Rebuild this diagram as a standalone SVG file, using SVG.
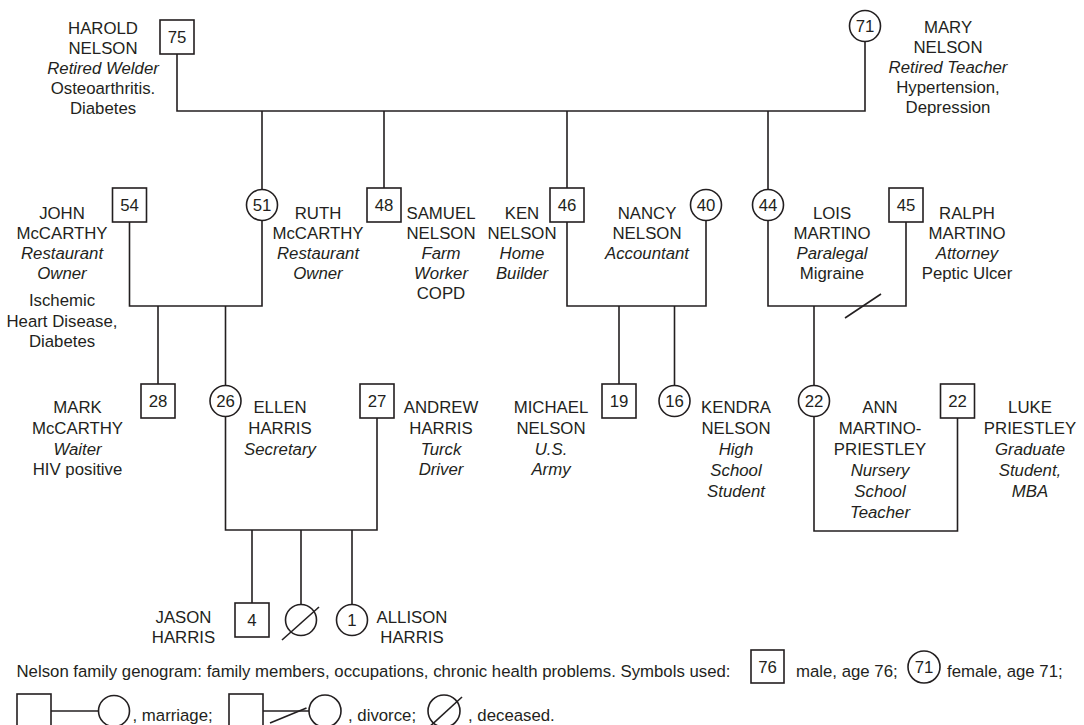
<svg xmlns="http://www.w3.org/2000/svg" width="1084" height="725" viewBox="0 0 1084 725">
<style>
text{font-family:"Liberation Sans",Arial,Helvetica,sans-serif;font-size:16.8px;fill:#231f20}
.c{text-anchor:middle}
.i{font-style:italic}
.sh{fill:#fff;stroke:#231f20;stroke-width:1.6}
.ln{fill:none;stroke:#231f20;stroke-width:1.6}
</style>
<rect width="1084" height="725" fill="#fff"/>
<g id="connectors" class="ln">
<polyline points="177,54 177,111 865,111 865,42"/>
<line x1="262" y1="111" x2="262" y2="190"/>
<line x1="384" y1="111" x2="384" y2="188"/>
<line x1="567" y1="111" x2="567" y2="188"/>
<line x1="768" y1="111" x2="768" y2="190"/>
<polyline points="129.5,222 129.5,306 262,306 262,220"/>
<line x1="158" y1="306" x2="158" y2="384"/>
<line x1="225.5" y1="306" x2="225.5" y2="385"/>
<polyline points="567,222 567,306 706,306 706,220"/>
<line x1="619" y1="306" x2="619" y2="384"/>
<line x1="674.5" y1="306" x2="674.5" y2="385"/>
<polyline points="768,220 768,306 906,306 906,222"/>
<line x1="845" y1="318" x2="881" y2="294"/>
<line x1="814" y1="306" x2="814" y2="385"/>
<polyline points="225.5,417 225.5,530 377,530 377,418"/>
<line x1="252" y1="530" x2="252" y2="603"/>
<line x1="301" y1="530" x2="301" y2="604"/>
<line x1="352" y1="530" x2="352" y2="604"/>
<polyline points="814,417 814,531 957.5,531 957.5,418"/>
</g>
<g id="harold"><rect class="sh" x="160" y="20" width="34" height="34"/><text class="c" x="177" y="43">75</text>
<text class="c" x="103" y="34">HAROLD</text><text class="c" x="103" y="54">NELSON</text><text class="c i" x="103" y="74">Retired Welder</text><text class="c" x="103" y="94">Osteoarthritis.</text><text class="c" x="103" y="114">Diabetes</text></g>
<g id="mary"><circle class="sh" cx="865" cy="26" r="15.5"/><text class="c" x="865" y="32">71</text>
<text class="c" x="948" y="33">MARY</text><text class="c" x="948" y="53">NELSON</text><text class="c i" x="948" y="73">Retired Teacher</text><text class="c" x="948" y="93">Hypertension,</text><text class="c" x="948" y="113">Depression</text></g>
<g id="john"><rect class="sh" x="112.5" y="188" width="34" height="34"/><text class="c" x="129.5" y="211">54</text>
<text class="c" x="62" y="219">JOHN</text><text class="c" x="62" y="239">McCARTHY</text><text class="c i" x="62" y="259">Restaurant</text><text class="c i" x="62" y="279">Owner</text><text class="c" x="62" y="306">Ischemic</text><text class="c" x="62" y="327">Heart Disease,</text><text class="c" x="62" y="347">Diabetes</text></g>
<g id="ruth"><circle class="sh" cx="262" cy="205" r="15.5"/><text class="c" x="262" y="211">51</text>
<text class="c" x="318" y="219">RUTH</text><text class="c" x="318" y="239">McCARTHY</text><text class="c i" x="318" y="259">Restaurant</text><text class="c i" x="318" y="279">Owner</text></g>
<g id="samuel"><rect class="sh" x="367" y="188" width="34" height="34"/><text class="c" x="384" y="211">48</text>
<text class="c" x="441" y="219">SAMUEL</text><text class="c" x="441" y="239">NELSON</text><text class="c i" x="441" y="259">Farm</text><text class="c i" x="441" y="279">Worker</text><text class="c" x="441" y="299">COPD</text></g>
<g id="ken"><rect class="sh" x="550" y="188" width="34" height="34"/><text class="c" x="567" y="211">46</text>
<text class="c" x="522" y="219">KEN</text><text class="c" x="522" y="239">NELSON</text><text class="c i" x="522" y="259">Home</text><text class="c i" x="522" y="279">Builder</text></g>
<g id="nancy"><circle class="sh" cx="706" cy="205" r="15.5"/><text class="c" x="706" y="211">40</text>
<text class="c" x="647" y="219">NANCY</text><text class="c" x="647" y="239">NELSON</text><text class="c i" x="647" y="259">Accountant</text></g>
<g id="lois"><circle class="sh" cx="768" cy="205" r="15.5"/><text class="c" x="768" y="211">44</text>
<text class="c" x="832" y="219">LOIS</text><text class="c" x="832" y="239">MARTINO</text><text class="c i" x="832" y="259">Paralegal</text><text class="c" x="832" y="279">Migraine</text></g>
<g id="ralph"><rect class="sh" x="889" y="188" width="34" height="34"/><text class="c" x="906" y="211">45</text>
<text class="c" x="967" y="219">RALPH</text><text class="c" x="967" y="239">MARTINO</text><text class="c i" x="967" y="259">Attorney</text><text class="c" x="967" y="279">Peptic Ulcer</text></g>
<g id="mark"><rect class="sh" x="141" y="384" width="34" height="34"/><text class="c" x="158" y="407">28</text>
<text class="c" x="77.5" y="413">MARK</text><text class="c" x="77.5" y="434">McCARTHY</text><text class="c i" x="77.5" y="455">Waiter</text><text class="c" x="77.5" y="475">HIV positive</text></g>
<g id="ellen"><circle class="sh" cx="225.5" cy="401" r="15.5"/><text class="c" x="225.5" y="407">26</text>
<text class="c" x="280" y="413">ELLEN</text><text class="c" x="280" y="434">HARRIS</text><text class="c i" x="280" y="455">Secretary</text></g>
<g id="andrew"><rect class="sh" x="360" y="384" width="34" height="34"/><text class="c" x="377" y="407">27</text>
<text class="c" x="441" y="413">ANDREW</text><text class="c" x="441" y="434">HARRIS</text><text class="c i" x="441" y="455">Turck</text><text class="c i" x="441" y="475">Driver</text></g>
<g id="michael"><rect class="sh" x="602" y="384" width="34" height="34"/><text class="c" x="619" y="407">19</text>
<text class="c" x="551" y="413">MICHAEL</text><text class="c" x="551" y="434">NELSON</text><text class="c i" x="551" y="455">U.S.</text><text class="c i" x="551" y="475">Army</text></g>
<g id="kendra"><circle class="sh" cx="674.5" cy="401" r="15.5"/><text class="c" x="674.5" y="407">16</text>
<text class="c" x="736" y="413">KENDRA</text><text class="c" x="736" y="434">NELSON</text><text class="c i" x="736" y="455">High</text><text class="c i" x="736" y="476">School</text><text class="c i" x="736" y="497">Student</text></g>
<g id="ann"><circle class="sh" cx="814" cy="401" r="15.5"/><text class="c" x="814" y="407">22</text>
<text class="c" x="880" y="413">ANN</text><text class="c" x="880" y="434">MARTINO-</text><text class="c" x="880" y="455">PRIESTLEY</text><text class="c i" x="880" y="476">Nursery</text><text class="c i" x="880" y="497">School</text><text class="c i" x="880" y="518">Teacher</text></g>
<g id="luke"><rect class="sh" x="940.5" y="384" width="34" height="34"/><text class="c" x="957.5" y="407">22</text>
<text class="c" x="1030" y="413">LUKE</text><text class="c" x="1030" y="434">PRIESTLEY</text><text class="c i" x="1030" y="455">Graduate</text><text class="c i" x="1030" y="476">Student,</text><text class="c i" x="1030" y="497">MBA</text></g>
<g id="jason"><rect class="sh" x="235" y="603" width="34" height="34"/><text class="c" x="252" y="626">4</text>
<text class="c" x="183.5" y="623">JASON</text><text class="c" x="183.5" y="643">HARRIS</text></g>
<g id="deceased-child"><circle class="sh" cx="301" cy="620" r="15.5"/><line class="ln" x1="282" y1="640" x2="319" y2="607"/></g>
<g id="allison"><circle class="sh" cx="352" cy="620" r="15.5"/><text class="c" x="352" y="626">1</text>
<text class="c" x="412" y="623">ALLISON</text><text class="c" x="412" y="643">HARRIS</text></g>
<g id="legend">
<text x="16.5" y="677" textLength="714" lengthAdjust="spacingAndGlyphs">Nelson family genogram: family members, occupations, chronic health problems. Symbols used:</text>
<rect class="sh" x="751" y="650" width="33" height="33"/><text class="c" x="767.5" y="673">76</text>
<text x="796" y="677">male, age 76;</text>
<circle class="sh" cx="924" cy="667" r="16"/><text class="c" x="924" y="673">71</text>
<text x="947" y="677">female, age 71;</text>
<line class="ln" x1="51" y1="711" x2="99" y2="711"/>
<rect class="sh" x="17" y="694" width="34" height="34"/>
<circle class="sh" cx="114" cy="711" r="15.5"/>
<text x="132.5" y="720.5">, marriage;</text>
<line class="ln" x1="263" y1="711" x2="309" y2="711"/>
<line class="ln" x1="270" y1="723" x2="306.5" y2="708"/>
<rect class="sh" x="229" y="694" width="34" height="34"/>
<circle class="sh" cx="325" cy="711" r="16"/>
<text x="348" y="720.5">, divorce;</text>
<circle class="sh" cx="444" cy="711" r="16"/>
<line class="ln" x1="426" y1="730" x2="462" y2="697"/>
<text x="468" y="720.5">, deceased.</text>
</g>
</svg>
